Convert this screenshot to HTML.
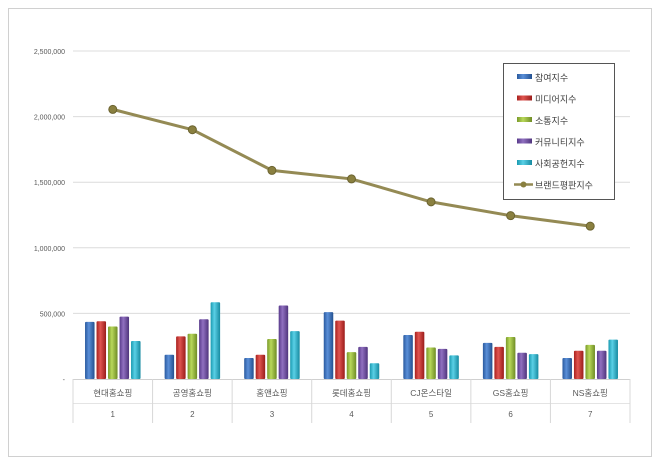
<!DOCTYPE html>
<html><head><meta charset="utf-8"><style>
body{margin:0;background:#fff;font-family:"Liberation Sans","Noto Sans CJK KR",sans-serif}
svg text{font-family:"Liberation Sans","Noto Sans CJK KR",sans-serif}
</style></head><body>
<svg id="c" width="660" height="465">
<defs>
<linearGradient id="g0" x1="0" x2="1"><stop offset="0" stop-color="#2a5a9e"/><stop offset=".4" stop-color="#5a8fd8"/><stop offset="1" stop-color="#23508f"/></linearGradient>
<linearGradient id="g1" x1="0" x2="1"><stop offset="0" stop-color="#a8201e"/><stop offset=".4" stop-color="#e05550"/><stop offset="1" stop-color="#9a1c1a"/></linearGradient>
<linearGradient id="g2" x1="0" x2="1"><stop offset="0" stop-color="#7a9a2a"/><stop offset=".4" stop-color="#b8d85a"/><stop offset="1" stop-color="#6f8c25"/></linearGradient>
<linearGradient id="g3" x1="0" x2="1"><stop offset="0" stop-color="#583a8a"/><stop offset=".4" stop-color="#9070c0"/><stop offset="1" stop-color="#4f347c"/></linearGradient>
<linearGradient id="g4" x1="0" x2="1"><stop offset="0" stop-color="#1a9ab0"/><stop offset=".4" stop-color="#5ad0e6"/><stop offset="1" stop-color="#178aa0"/></linearGradient>
</defs>
<rect x="8.5" y="8.5" width="643" height="448" fill="#fff" stroke="#d0d0d0"/>
<g id="grid"></g><g id="bars"></g><g id="line"></g>
<g id="legend"></g>
</svg>
<script>
const categories=["현대홈쇼핑","공영홈쇼핑","홈앤쇼핑","롯데홈쇼핑","CJ온스타일","GS홈쇼핑","NS홈쇼핑"];
const ranks=["1","2","3","4","5","6","7"];
const seriesNames=["참여지수","미디어지수","소통지수","커뮤니티지수","사회공헌지수"];
const s1=[435000,185000,160000,510000,335000,275000,160000];
const s2=[440000,325000,185000,445000,360000,245000,215000];
const s3=[400000,345000,305000,205000,240000,320000,260000];
const s4=[475000,455000,560000,245000,230000,200000,215000];
const s5=[290000,585000,365000,120000,180000,190000,300000];
const brand=[2055000,1900000,1590000,1525000,1350000,1245000,1165000];
const lineName="브랜드평판지수";
const yTicks=[0,500000,1000000,1500000,2000000,2500000];
const yTickLabels=["-","500,000","1,000,000","1,500,000","2,000,000","2,500,000"];
const series=[s1,s2,s3,s4,s5];
const NS="http://www.w3.org/2000/svg";
const X0=73,X1=630,Y0=379,YMAX=2500000,YTOP=51;
const cw=(X1-X0)/categories.length;
const y=v=>Y0-(v/YMAX)*(Y0-YTOP);
const xc=i=>X0+cw*(i+.5);
function mk(t,a,p){const e=document.createElementNS(NS,t);for(const k in a)e.setAttribute(k,a[k]);p.appendChild(e);return e;}
const grid=document.getElementById('grid');
yTicks.forEach((v,i)=>{
 if(i>0){const l=mk('line',{x1:X0,x2:X1,y1:y(v),y2:y(v),stroke:'#dcdcdc'},grid);
 
 }
 const t=mk('text',{x:65,y:y(v)+3,'text-anchor':'end','font-size':'7','fill':'#595959'},grid);t.textContent=yTickLabels[i];
 
 
});
mk('line',{x1:X0,x2:X1,y1:Y0+.5,y2:Y0+.5,stroke:'#d0d0d0'},grid);
mk('line',{x1:X0,x2:X1,y1:403.5,y2:403.5,stroke:'#e4e4e4'},grid);
for(let i=0;i<=categories.length;i++){mk('line',{x1:X0+cw*i,x2:X0+cw*i,y1:Y0,y2:423,stroke:'#d8d8d8'},grid);}
categories.forEach((c,i)=>{
 const t=mk('text',{x:xc(i),y:396,'text-anchor':'middle','font-size':'8.5','fill':'#595959'},grid);t.textContent=c;
 
 
 const r=mk('text',{x:xc(i),y:417,'text-anchor':'middle','font-size':'8','fill':'#595959'},grid);r.textContent=ranks[i];
 
 
});
const bars=document.getElementById('bars');
const bw=9.5,gap=2;
series.forEach((s,si)=>s.forEach((v,i)=>{
 const x=xc(i)-(5*bw+4*gap)/2+si*(bw+gap);
 const b=mk('rect',{x:x,y:y(v),width:bw,height:Y0-y(v),fill:'url(#g'+si+')',rx:1},bars);
 
 
}));
const lg=document.getElementById('line');
const pts=brand.map((v,i)=>xc(i)+','+y(v)).join(' ');
const pl=mk('polyline',{points:pts,fill:'none',stroke:'#948a54',"stroke-width":3},lg);


brand.forEach((v,i)=>{const c=mk('circle',{cx:xc(i),cy:y(v),r:4,fill:'#8a8040',stroke:'#6b6330'},lg);
 
 });
const leg=document.getElementById('legend');
mk('rect',{x:503.5,y:63.5,width:111,height:136,fill:'#fff',stroke:'#555'},leg);
const cols=["url(#g0)","url(#g1)","url(#g2)","url(#g3)","url(#g4)"];
seriesNames.concat([lineName]).forEach((n,i)=>{
 const yy=77+i*21.5;
 if(i<5){mk('rect',{x:517,y:yy-3,width:15,height:5,fill:cols[i]},leg);}
 else{mk('line',{x1:514,x2:533,y1:yy,y2:yy,stroke:'#948a54','stroke-width':2.5},leg);mk('circle',{cx:523.5,cy:yy,r:3,fill:'#8a8040'},leg);}
 const t=mk('text',{x:535,y:yy+4,'font-size':'9','fill':'#404040'},leg);t.textContent=n;
 
 
});
</script>
</body></html>
